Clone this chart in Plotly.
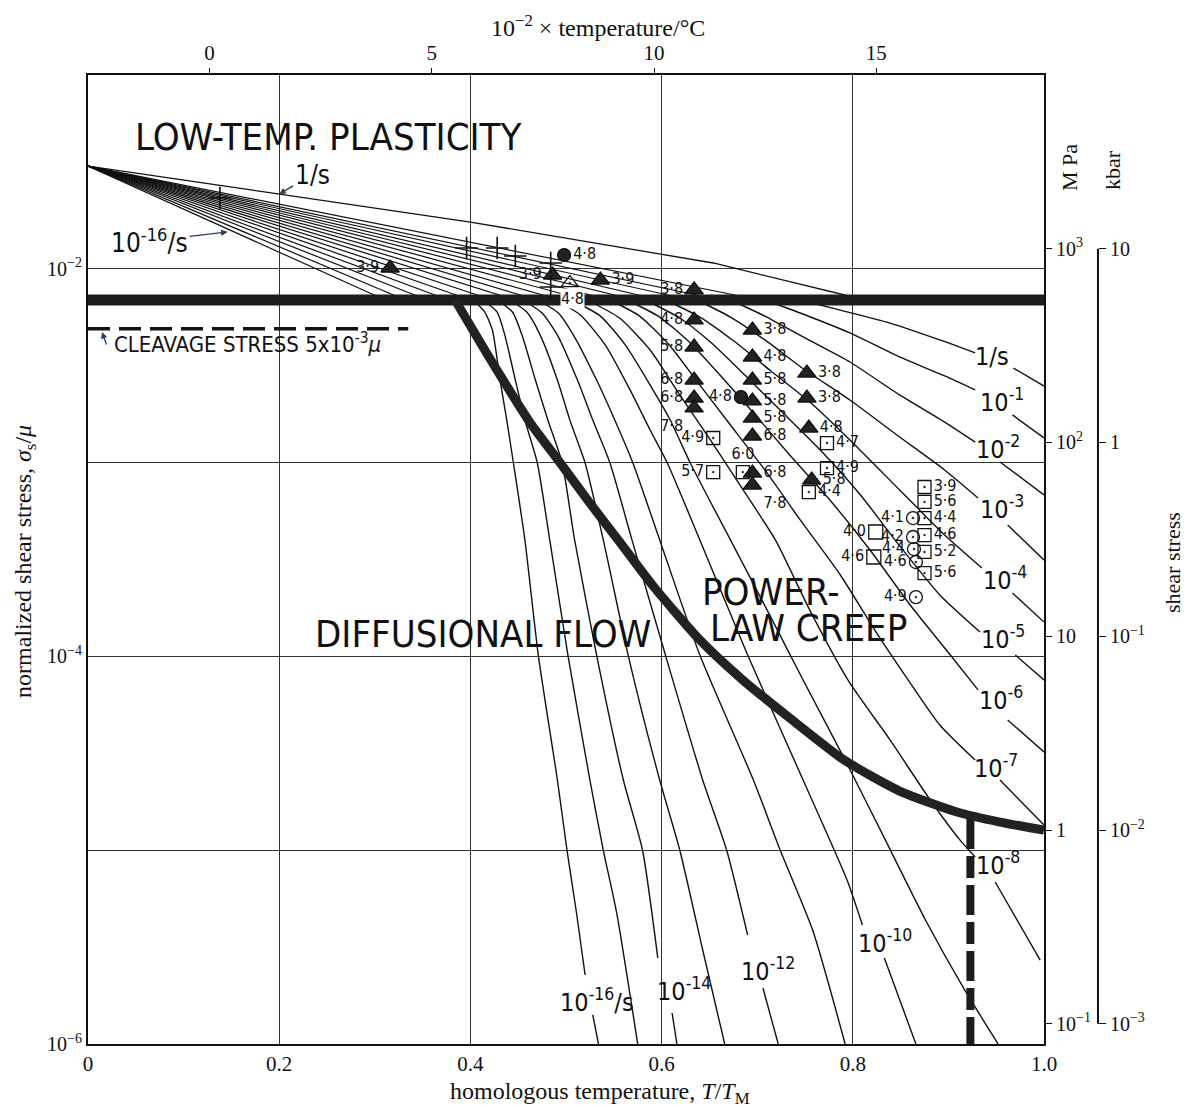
import math
import plotly.graph_objects as go

# ---------------- axis / tick data ----------------
T_MELT_K = 2150                       # melting temperature used for the top (deg C) scale
top_ticks_C = [0, 500, 1000, 1500]
top_tick_text = ['0', '5', '10', '15']
x_ticks = [0, 0.2, 0.4, 0.6, 0.8, 1.0]
x_tick_text = ['0', '0.2', '0.4', '0.6', '0.8', '1.0']
y_ticks = [1e-6, 1e-5, 1e-4, 1e-3, 1e-2, 1e-1]
y_tick_text = ['10<sup>−6</sup>', '', '10<sup>−4</sup>', '', '10<sup>−2</sup>', '']
LOG_MU_MPA = 4.896                    # log10 of shear modulus in MPa
mpa_ticks = [0.1, 1, 10, 100, 1000]
mpa_tick_text = ['10<sup>−1</sup>', '1', '10', '10<sup>2</sup>', '10<sup>3</sup>']
kbar_ticks = [1e-3, 1e-2, 1e-1, 1, 10]
kbar_tick_text = ['10<sup>−3</sup>', '10<sup>−2</sup>', '10<sup>−1</sup>', '1', '10']

# ---------------- boundaries (T/TM, sigma/mu) ----------------
band_T = [0.0, 1.0]
band_s = [6.9e-3, 6.9e-3]
cleavage_T = [0.0, 0.335]
cleavage_s = [4.9e-3, 4.9e-3]
# diffusional-flow / power-law-creep boundary: (T/TM, log10 sigma/mu)
boundary_dif_plc = [(0.384, -2.161), (0.410, -2.378), (0.436, -2.589), (0.462, -2.791),
                    (0.494, -3.002), (0.525, -3.209), (0.557, -3.415), (0.592, -3.642),
                    (0.640, -3.915), (0.685, -4.122), (0.734, -4.318), (0.791, -4.535),
                    (0.849, -4.695), (0.909, -4.803), (0.954, -4.855), (1.000, -4.896)]
melt_dash_T = [0.923, 0.923]
melt_dash_s = [1.45e-5, 1.0e-6]

# ---------------- low-temperature plasticity fan ----------------
ltp_apex = (0.0, -1.470)
ltp_rate_e0 = [(0.0, -1.470), (0.400, -1.759), (0.654, -1.970), (0.813, -2.161)]
ltp_end_T = [0.703, 0.661, 0.630, 0.598, 0.572, 0.546, 0.520, 0.494,
             0.470, 0.447, 0.423, 0.400, 0.377, 0.355, 0.332, 0.311]   # 1e-1 ... 1e-16 /s

# ---------------- strain-rate contours below the band: (T/TM, log10 sigma/mu) ----------------
rate_e0 = [(0.745, -2.161), (0.787, -2.213), (0.839, -2.280), (0.891, -2.367), (0.928, -2.434), None,
           (0.968, -2.512), (1.0, -2.605)]
rate_e1 = [(0.708, -2.161), (0.745, -2.228), (0.797, -2.331), (0.849, -2.455), (0.896, -2.553),
           (0.928, -2.625), None, (0.967, -2.754), (1.0, -2.873)]
rate_e2 = [(0.672, -2.161), (0.708, -2.244), (0.750, -2.357), (0.797, -2.481), (0.849, -2.651),
           (0.896, -2.791), (0.928, -2.894), None, (0.954, -2.997), (1.0, -3.167)]
rate_e3 = [(0.637, -2.161), (0.672, -2.249), (0.708, -2.367), (0.750, -2.522), (0.797, -2.677),
           (0.849, -2.868), (0.896, -3.038), (0.931, -3.183), None, (0.962, -3.322), (1.0, -3.503)]
rate_e4 = [(0.604, -2.161), (0.640, -2.249), (0.677, -2.378), (0.713, -2.522), (0.755, -2.687),
           (0.797, -2.883), (0.849, -3.141), (0.896, -3.374), (0.935, -3.544), None,
           (0.967, -3.673), (1.0, -3.823)]
rate_e5 = [(0.583, -2.161), (0.619, -2.254), (0.651, -2.378), (0.687, -2.548), (0.724, -2.729),
           (0.766, -2.935), (0.808, -3.167), (0.849, -3.430), (0.891, -3.683), (0.933, -3.874), None,
           (0.970, -3.993), (1.0, -4.122)]
rate_e6 = [(0.564, -2.161), (0.598, -2.249), (0.630, -2.383), (0.661, -2.548), (0.698, -2.754),
           (0.734, -2.961), (0.776, -3.193), (0.818, -3.451), (0.860, -3.735), (0.902, -3.993),
           (0.931, -4.173), None, (0.962, -4.328), (1.0, -4.493)]
rate_e7 = [(0.546, -2.161), (0.577, -2.244), (0.608, -2.393), (0.640, -2.600), (0.672, -2.806),
           (0.708, -3.038), (0.745, -3.296), (0.787, -3.580), (0.823, -3.864), (0.858, -4.122),
           (0.891, -4.354), (0.928, -4.535), None, (0.954, -4.638), (1.0, -4.870)]
rate_e8 = [(0.522, -2.161), (0.556, -2.254), (0.588, -2.419), (0.619, -2.651), (0.651, -2.883),
           (0.682, -3.116), (0.719, -3.399), (0.755, -3.761), (0.795, -4.122), (0.839, -4.431),
           (0.881, -4.741), (0.912, -4.947), (0.928, -5.035), None, (0.949, -5.164), (0.996, -5.567)]
rate_e9 = [(0.506, -2.161), (0.536, -2.244), (0.562, -2.393), (0.588, -2.600), (0.609, -2.780),
           (0.630, -3.002), (0.672, -3.399), (0.713, -3.786), (0.748, -4.122), (0.792, -4.535),
           (0.834, -4.947), (0.876, -5.360), (0.917, -5.721), (0.952, -6.0)]
rate_e10 = [(0.489, -2.161), (0.515, -2.238), (0.541, -2.393), (0.567, -2.625), (0.588, -2.832),
            (0.606, -3.002), (0.640, -3.399), (0.690, -3.993), (0.748, -4.638), (0.794, -5.154),
            (0.810, -5.386), None, (0.833, -5.556), (0.866, -6.0)]
rate_e11 = [(0.470, -2.161), (0.492, -2.228), (0.509, -2.352), (0.532, -2.574), (0.551, -2.780),
            (0.570, -3.002), (0.598, -3.399), (0.640, -3.993), (0.696, -4.638), (0.724, -4.999),
            (0.758, -5.412), (0.792, -6.0)]
rate_e12 = [(0.455, -2.161), (0.475, -2.228), (0.491, -2.342), (0.512, -2.574), (0.528, -2.780),
            (0.546, -3.002), (0.569, -3.399), (0.604, -3.993), (0.643, -4.638), (0.668, -4.999),
            (0.690, -5.438), None, (0.706, -5.711), (0.722, -6.0)]
rate_e13 = [(0.441, -2.161), (0.459, -2.223), (0.473, -2.342), (0.491, -2.574), (0.504, -2.780),
            (0.520, -3.002), (0.539, -3.399), (0.565, -3.993), (0.598, -4.638), (0.619, -4.999),
            (0.643, -5.515), (0.666, -6.0)]
rate_e14 = [(0.428, -2.161), (0.444, -2.223), (0.454, -2.342), (0.468, -2.574), (0.481, -2.780),
            (0.496, -3.002), (0.509, -3.399), (0.532, -3.993), (0.560, -4.638), (0.580, -4.999),
            (0.596, -5.556), None, (0.611, -5.840), (0.616, -6.0)]
rate_e15 = [(0.413, -2.161), (0.428, -2.223), (0.436, -2.342), (0.447, -2.574), (0.457, -2.780),
            (0.470, -3.002), (0.483, -3.399), (0.502, -3.993), (0.525, -4.638), (0.539, -4.999),
            (0.553, -5.324), (0.575, -6.0)]
rate_e16 = [(0.403, -2.161), (0.415, -2.223), (0.423, -2.316), (0.431, -2.574), (0.438, -2.780),
            (0.445, -3.002), (0.457, -3.399), (0.471, -3.993), (0.491, -4.638), (0.501, -4.999),
            (0.511, -5.324), (0.520, -5.644), None, (0.528, -5.850), (0.534, -6.0)]

# contour labels: (T/TM, log10 sigma/mu, text)
contour_labels = [
    (0.946, -2.450, '1/s'), (0.956, -2.682, '10<sup>-1</sup>'), (0.952, -2.920, '10<sup>-2</sup>'),
    (0.956, -3.234, '10<sup>-3</sup>'), (0.959, -3.596, '10<sup>-4</sup>'), (0.957, -3.905, '10<sup>-5</sup>'),
    (0.955, -4.215, '10<sup>-6</sup>'), (0.950, -4.566, '10<sup>-7</sup>'), (0.952, -5.071, '10<sup>-8</sup>'),
    (0.834, -5.469, '10<sup>-10</sup>'), (0.711, -5.618, '10<sup>-12</sup>'), (0.623, -5.721, '10<sup>-14</sup>'),
    (0.532, -5.773, '10<sup>-16</sup>/s')]

# ---------------- experimental points: (T/TM, log10 sigma/mu, label, label position) ----------------
pts_filled_tri = [
    (0.316, -1.996, '3·9', 'middle left'), (0.486, -2.032, '3·9', 'middle left'),
    (0.536, -2.058, '3·9', 'middle right'), (0.634, -2.109, '3·8', 'middle left'),
    (0.634, -2.264, '4·8', 'middle left'), (0.634, -2.404, '5·8', 'middle left'),
    (0.634, -2.574, '6·8', 'middle left'), (0.634, -2.667, '6·8', 'middle left'),
    (0.634, -2.718, '7·8', 'bottom left'),
    (0.695, -2.316, '3·8', 'middle right'), (0.695, -2.455, '4·8', 'middle right'),
    (0.695, -2.574, '5·8', 'middle right'), (0.695, -2.682, '5·8', 'middle right'),
    (0.695, -2.770, '5·8', 'middle right'), (0.695, -2.863, '6·8', 'middle right'),
    (0.695, -3.054, '6·8', 'middle right'), (0.695, -3.116, '7·8', 'bottom right'),
    (0.752, -2.538, '3·8', 'middle right'), (0.752, -2.667, '3·8', 'middle right'),
    (0.754, -2.822, '4·8', 'middle right'), (0.757, -3.090, '5·8', 'middle right')]
pts_square_dot = [
    (0.654, -2.873, '4·9', 'middle left'), (0.654, -3.049, '5·7', 'middle left'),
    (0.685, -3.049, '6·0', 'top center'), (0.773, -2.899, '4·7', 'middle right'),
    (0.773, -3.028, '4·9', 'middle right'), (0.754, -3.152, '4·4', 'middle right'),
    (0.875, -3.126, '3·9', 'middle right'), (0.875, -3.203, '5·6', 'middle right'),
    (0.875, -3.286, '4·4', 'middle right'), (0.875, -3.374, '4·6', 'middle right'),
    (0.875, -3.461, '5·2', 'middle right'), (0.875, -3.570, '5·6', 'middle right')]
pts_circle_dot = [
    (0.863, -3.286, '4·1', 'middle left'), (0.863, -3.384, '4·2', 'middle left'),
    (0.864, -3.446, '4·4', 'middle left'), (0.866, -3.513, '4·6', 'middle left'),
    (0.866, -3.694, '4·9', 'middle left')]
pts_square_open = [(0.824, -3.358, '4·0', 'middle left'), (0.822, -3.487, '4·6', 'middle left')]
pts_circle_filled = [(0.498, -1.929, '4·8', 'middle right'), (0.683, -2.662, '4·8', 'middle left')]
pts_tri_open_dot = [(0.504, -2.073, '', 'bottom center')]
tri_open_dot_label = (0.507, -2.152, '4·8')
pts_cross = [(0.138, -1.635), (0.396, -1.893), (0.428, -1.893), (0.447, -1.934),
             (0.484, -1.970), (0.484, -2.094)]

# ---------------- styling ----------------
NARROW = "Liberation Sans Narrow, DejaVu Sans Condensed, Arial Narrow, Roboto, sans-serif"
SERIF = "Liberation Serif, DejaVu Serif, serif"
INK = '#111111'

fig = go.Figure()


def to_xy(pts):
    xs, ys = [], []
    for p in pts:
        if p is None:
            xs.append(None)
            ys.append(None)
        else:
            xs.append(p[0])
            ys.append(10 ** p[1])
    return xs, ys


def add_line(pts, width, color=INK, dash=None, spline=False):
    xs, ys = to_xy(pts)
    line = dict(color=color, width=width)
    if dash:
        line['dash'] = dash
    if spline:
        line['shape'] = 'spline'
        line['smoothing'] = 0.6
    fig.add_trace(go.Scatter(x=xs, y=ys, mode='lines', line=line, hoverinfo='skip',
                             showlegend=False, connectgaps=False))


# low-temperature plasticity fan
add_line(ltp_rate_e0, 1.3)
for t_end in ltp_end_T:
    add_line([ltp_apex, (t_end, math.log10(band_s[0]))], 1.2)

# power-law / diffusional contours
for c in [rate_e0, rate_e1, rate_e2, rate_e3, rate_e4, rate_e5, rate_e6, rate_e7, rate_e8,
          rate_e9, rate_e10, rate_e11, rate_e12, rate_e13, rate_e14, rate_e15, rate_e16]:
    add_line(c, 1.4, spline=True)

# cleavage stress (dashed)
fig.add_trace(go.Scatter(x=cleavage_T, y=cleavage_s, mode='lines',
                         line=dict(color=INK, width=3.5, dash='22px,9px'),
                         hoverinfo='skip', showlegend=False))
# yield band
fig.add_trace(go.Scatter(x=band_T, y=band_s, mode='lines', line=dict(color='#1d1d1d', width=11),
                         hoverinfo='skip', showlegend=False))
# boundary curve
add_line(boundary_dif_plc, 9, color='#222222', spline=True)
# dashed vertical line
fig.add_trace(go.Scatter(x=melt_dash_T, y=melt_dash_s, mode='lines',
                         line=dict(color='#1d1d1d', width=8, dash='30px,7px,22px,7px'),
                         hoverinfo='skip', showlegend=False))


def add_points(pts, symbol, size, color=INK, line_w=1.3):
    fig.add_trace(go.Scatter(
        x=[p[0] for p in pts], y=[10 ** p[1] for p in pts], mode='markers+text',
        text=[p[2] for p in pts], textposition=[p[3] for p in pts],
        textfont=dict(family=NARROW, size=16, color=INK),
        marker=dict(symbol=symbol, size=size, color=color, line=dict(color=INK, width=line_w)),
        hoverinfo='skip', showlegend=False, cliponaxis=False))


add_points(pts_filled_tri, 'triangle-up', 16, color='#222222')
add_points(pts_square_dot, 'square-open-dot', 13, color=INK)
add_points(pts_circle_dot, 'circle-open-dot', 13, color=INK)
add_points(pts_square_open, 'square-open', 14, color=INK)
add_points(pts_circle_filled, 'circle', 13, color='#222222')
add_points(pts_tri_open_dot, 'triangle-up-open-dot', 15, color=INK)
fig.add_trace(go.Scatter(x=[p[0] for p in pts_cross], y=[10 ** p[1] for p in pts_cross], mode='markers',
                         marker=dict(symbol='cross-thin', size=16, line=dict(color=INK, width=1.6)),
                         hoverinfo='skip', showlegend=False))

# dummy traces so the secondary axes are drawn
fig.add_trace(go.Scatter(x=[0.5], y=[1e-3], xaxis='x2', yaxis='y', mode='markers',
                         marker=dict(opacity=0), hoverinfo='skip', showlegend=False))
fig.add_trace(go.Scatter(x=[0.5], y=[10], xaxis='x', yaxis='y2', mode='markers',
                         marker=dict(opacity=0), hoverinfo='skip', showlegend=False))
fig.add_trace(go.Scatter(x=[0.5], y=[0.1], xaxis='x', yaxis='y3', mode='markers',
                         marker=dict(opacity=0), hoverinfo='skip', showlegend=False))

annotations = []
for t, l, txt in contour_labels:
    annotations.append(dict(x=t, y=l, xref='x', yref='y', text=txt, showarrow=False,
                            xanchor='center', yanchor='middle',
                            font=dict(family=NARROW, size=25, color=INK)))
# label sitting on the yield band (band interrupted behind it)
annotations.append(dict(x=tri_open_dot_label[0], y=tri_open_dot_label[1], xref='x', yref='y',
                        text=tri_open_dot_label[2], showarrow=False, bgcolor='white', borderpad=0,
                        xanchor='center', yanchor='middle',
                        font=dict(family=NARROW, size=16, color=INK)))


def paper_note(x, y, text, font, xanchor='center', angle=0):
    return dict(x=x, y=y, xref='paper', yref='paper', text=text, showarrow=False,
                xanchor=xanchor, yanchor='middle', textangle=angle, font=font)


region_font = dict(family=NARROW, size=38, color=INK)
title_font = dict(family=SERIF, size=24, color=INK)
side_font = dict(family=SERIF, size=22, color=INK)
annotations += [
    paper_note(0.0445, 0.9365, 'LOW-TEMP. PLASTICITY', region_font, 'left'),
    paper_note(0.2223, 0.4231, 'DIFFUSIONAL FLOW', region_font, 'left'),
    paper_note(0.6047, 0.4665, 'POWER-', region_font, 'left'),
    paper_note(0.6126, 0.4293, 'LAW CREEP', region_font, 'left'),
    # arrows in the plasticity field
    dict(x=0.200, y=-1.614, xref='x', yref='y', text='1/s', showarrow=True, arrowhead=2,
         arrowsize=1, arrowwidth=1.3, ax=33, ay=-19, font=dict(family=NARROW, size=26, color=INK)),
    dict(x=0.146, y=-1.810, xref='x', yref='y', text='10<sup>-16</sup>/s', showarrow=True, arrowhead=2,
         arrowsize=1, arrowwidth=1.3, ax=-78, ay=9, font=dict(family=NARROW, size=26, color=INK)),
    dict(x=0.0146, y=-2.326, xref='x', yref='y', text='', showarrow=True, arrowhead=2,
         arrowsize=1, arrowwidth=1.3, ax=5, ay=14),
    dict(x=0.0251, y=-2.385, xref='x', yref='y', text='CLEAVAGE STRESS 5x10<sup>-3</sup><i>μ</i>',
         xanchor='left', yanchor='middle', showarrow=False, font=dict(family=NARROW, size=22, color=INK)),
    # axis titles
    paper_note(0.506, -0.0505, 'homologous temperature, <i>T</i>/<i>T</i><sub>M</sub>', title_font),
    paper_note(-0.0623, 0.4985, 'normalized shear stress, <i>σ</i><sub>s</sub>/<i>μ</i>', title_font,
               angle=-90),
    paper_note(0.504, 1.0505, '10<sup>−2</sup> × temperature/°C', title_font),
    paper_note(0.9694, 0.904, 'M Pa', side_font, angle=-90),
    paper_note(1.0128, 0.902, 'kbar', side_font, angle=-90),
    paper_note(1.0711, 0.4974, 'shear stress', side_font, angle=-90),
]

# kbar axis line only spans its labelled range
kbar_range = [-6 + LOG_MU_MPA - 2, -1 + LOG_MU_MPA - 2]


def kbar_paper(v):
    return (math.log10(v) - kbar_range[0]) / (kbar_range[1] - kbar_range[0])


shapes = [dict(type='line', xref='paper', yref='paper', x0=0.998, x1=0.998,
               y0=kbar_paper(kbar_ticks[0]), y1=kbar_paper(kbar_ticks[-1]),
               line=dict(color=INK, width=2))]

tickfont = dict(family=SERIF, size=21, color=INK)
ytickfont = dict(family=SERIF, size=20, color=INK)
x_domain_end = 956 / 1012
# the page body adds an 8 px margin, so the figure is 8 px smaller on each side
fig.update_layout(
    width=1181, height=1100,
    margin=dict(l=80, r=89, t=67, b=64, autoexpand=False),
    paper_bgcolor='white', plot_bgcolor='white',
    showlegend=False,
    xaxis=dict(domain=[0, x_domain_end], range=[0, 1], tickvals=x_ticks, ticktext=x_tick_text,
               showgrid=True, gridcolor='#333333', gridwidth=1, zeroline=False,
               showline=True, linecolor=INK, linewidth=2, mirror=True, ticks='',
               tickfont=tickfont, automargin=False),
    xaxis2=dict(overlaying='x', side='top', anchor='y', range=[0, 1],
                tickvals=[(c + 273) / T_MELT_K for c in top_ticks_C], ticktext=top_tick_text,
                ticks='outside', ticklen=6, tickcolor=INK, tickwidth=1.3, showgrid=False,
                showline=False, zeroline=False, tickfont=tickfont, automargin=False),
    yaxis=dict(type='log', range=[-6, -1], tickvals=y_ticks, ticktext=y_tick_text,
               showgrid=True, gridcolor='#333333', gridwidth=1, zeroline=False,
               showline=True, linecolor=INK, linewidth=2, mirror=True, ticks='',
               tickfont=ytickfont, automargin=False),
    yaxis2=dict(type='log', overlaying='y', side='right', anchor='x',
                range=[-6 + LOG_MU_MPA, -1 + LOG_MU_MPA], tickvals=mpa_ticks, ticktext=mpa_tick_text,
                ticks='outside', ticklen=7, tickcolor=INK, tickwidth=1.3, showgrid=False,
                showline=False, zeroline=False, tickfont=ytickfont, automargin=False),
    yaxis3=dict(type='log', overlaying='y', side='right', anchor='free', position=0.998,
                range=kbar_range, tickvals=kbar_ticks, ticktext=kbar_tick_text,
                ticks='outside', ticklen=7, tickcolor=INK, tickwidth=1.3, showgrid=False,
                showline=False, zeroline=False, tickfont=ytickfont, automargin=False),
    annotations=annotations,
    shapes=shapes,
)

fig.write_html('out.html')
